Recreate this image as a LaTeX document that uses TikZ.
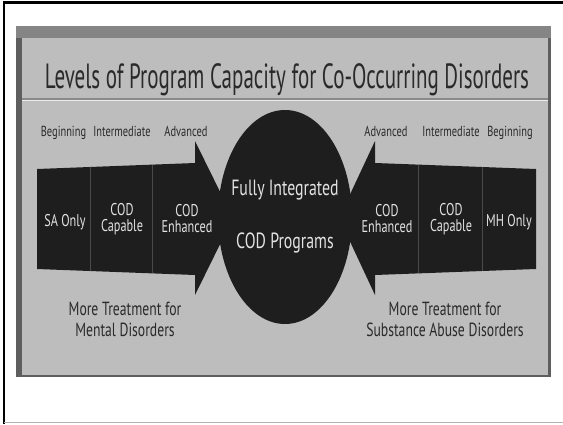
\documentclass[tikz,border=0pt]{standalone}
\usepackage{fontspec}
\setmainfont[FakeStretch=0.72]{PT Sans}
\newfontfamily\headfont[FakeStretch=0.6]{PT Sans}
\usetikzlibrary{positioning}
\usetikzlibrary{shapes.geometric}
\usetikzlibrary{calc}

\definecolor{paneldark}{HTML}{5E5E5E}
\definecolor{paneltop}{HTML}{858585}
\definecolor{panelbg}{HTML}{BDBDBD}
\definecolor{arrowfill}{HTML}{1E1E1E}
\definecolor{inktext}{HTML}{2A2A2A}
\definecolor{lighttext}{HTML}{E2E2E2}
\definecolor{celldivider}{HTML}{4A4A4A}
\definecolor{rulegray}{HTML}{8A8A8A}

\begin{document}
\begin{tikzpicture}[
    x=1pt,y=-1pt,
    titletext/.style={text=inktext,font=\headfont\fontsize{35}{35}\selectfont,inner sep=0pt,anchor=base},
    leveltext/.style={text=inktext,font=\fontsize{14.5}{14.5}\selectfont,inner sep=0pt,anchor=base},
    celltext/.style={text=lighttext,font=\fontsize{17}{16}\selectfont,align=center,inner sep=0pt},
    hubtext/.style={text=lighttext,font=\fontsize{22}{22}\selectfont,inner sep=0pt,anchor=base},
    notetext/.style={text=inktext,font=\fontsize{19}{19}\selectfont,inner sep=0pt,anchor=base},
    bigarrow/.style={fill=arrowfill},
    celldiv/.style={draw=celldivider,line width=0.6},
    hub/.style={ellipse,fill=arrowfill,minimum width=134pt,minimum height=214pt,inner sep=0pt}
    ]

    \useasboundingbox (0,0) rectangle (563,424);

    % frame of the page
    \draw[line width=2.2] (4,424) -- (4,2.5) -- (563,2.5);
    \draw[gray!60,line width=1.5] (4,422.5) -- (563,422.5);

    % panel
    \fill[paneldark] (16,26) rectangle (551,377);
    \fill[paneltop] (16,26) rectangle (551,38);
    \fill[panelbg] (22,38) rectangle (548,375);

    \node[titletext] (title) at (287,88) {Levels of Program Capacity for Co-Occurring Disorders};
    \draw[rulegray,line width=1.4] (22,99) -- (548,99);
    \draw[white!70!panelbg,line width=0.8] (22,100.5) -- (548,100.5);

    % left arrow
    \coordinate (lt0) at (37,169);
    \coordinate (lt1) at (195,163);
    \coordinate (lb0) at (37,269);
    \coordinate (lb1) at (195,275);
    \fill[bigarrow] (lt0) -- (lt1) -- (195,141) -- (233,218) -- (195,295) -- (lb1) -- (lb0) -- cycle;
    \draw[celldiv] ($(lt0)!0.335!(lt1)$) -- ($(lb0)!0.335!(lb1)$);
    \draw[celldiv] ($(lt0)!0.73!(lt1)$) -- ($(lb0)!0.73!(lb1)$);

    % right arrow
    \coordinate (rt0) at (536,169);
    \coordinate (rt1) at (375,163);
    \coordinate (rb0) at (536,269);
    \coordinate (rb1) at (375,275);
    \fill[bigarrow] (rt0) -- (rt1) -- (375,141) -- (339,218) -- (375,295) -- (rb1) -- (rb0) -- cycle;
    \draw[celldiv] ($(rt0)!0.335!(rt1)$) -- ($(rb0)!0.335!(rb1)$);
    \draw[celldiv] ($(rt0)!0.73!(rt1)$) -- ($(rb0)!0.73!(rb1)$);

    % centre
    \node[hub] (core) at (285,217) {};
    \node[hubtext] (fully) at (285,195) {Fully Integrated};
    \node[hubtext] (progs) at (285,248) {COD Programs};

    % levels
    \node[leveltext] (begl) at (63.5,136) {Beginning};
    \node[leveltext] (intl) at (122,136) {Intermediate};
    \node[leveltext] (advl) at (186,136) {Advanced};
    \node[leveltext] (advr) at (386,136) {Advanced};
    \node[leveltext] (intr) at (451,136) {Intermediate};
    \node[leveltext] (begr) at (510,136) {Beginning};

    % cells
    \node[celltext] (saonly) at (65,222) {SA Only};
    \node[celltext] (capl) at (122,219) {COD\\Capable};
    \node[celltext] (enhl) at (187,219) {COD\\Enhanced};
    \node[celltext] (enhr) at (387,219) {COD\\Enhanced};
    \node[celltext] (capr) at (451,219) {COD\\Capable};
    \node[celltext] (mhonly) at (509,222) {MH Only};

    % notes
    \node[notetext] (morel) at (125,315) {More Treatment for};
    \node[notetext] (mentl) at (125,336) {Mental Disorders};
    \node[notetext] (morer) at (445,315) {More Treatment for};
    \node[notetext] (subsr) at (445,336) {Substance Abuse Disorders};

\end{tikzpicture}
\end{document}
